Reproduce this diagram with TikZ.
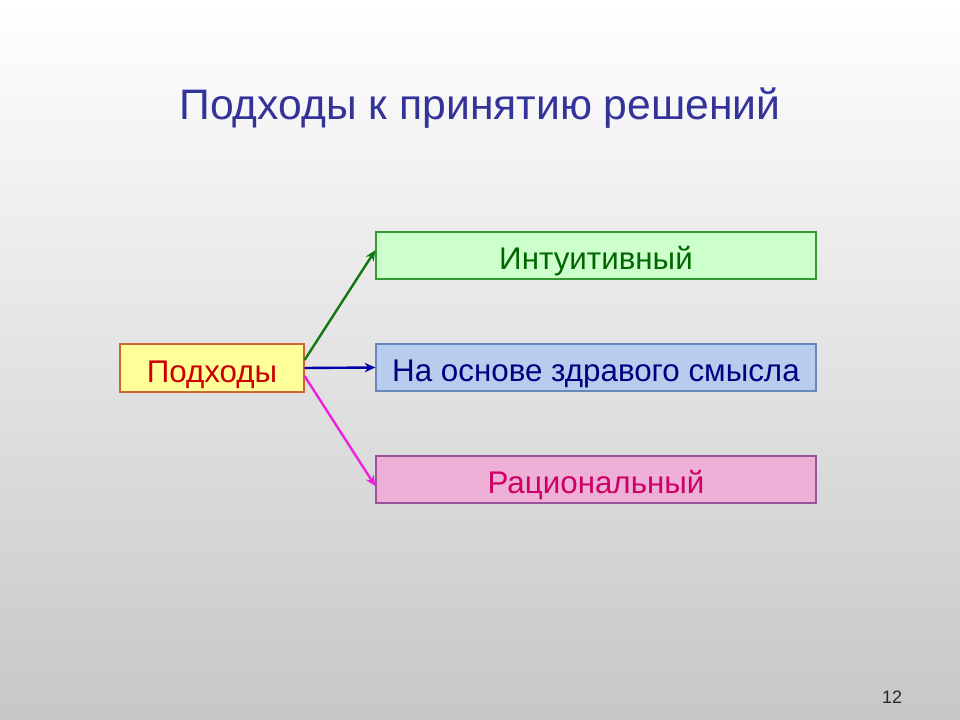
\documentclass[tikz,border=0pt]{standalone}
\usepackage{fontspec}
\setmainfont{Liberation Sans}
\usetikzlibrary{arrows.meta}
\definecolor{titleblue}{HTML}{333399}
\definecolor{yfill}{HTML}{FFFF99}
\definecolor{ydraw}{HTML}{CC6633}
\definecolor{ytext}{HTML}{CC0000}
\definecolor{gfill}{HTML}{CCFFCC}
\definecolor{gdraw}{HTML}{339933}
\definecolor{gtext}{HTML}{006600}
\definecolor{bfill}{HTML}{B8CCEE}
\definecolor{bdraw}{HTML}{6688BB}
\definecolor{btext}{HTML}{000080}
\definecolor{pfill}{HTML}{EEB0D6}
\definecolor{pdraw}{HTML}{995599}
\definecolor{ptext}{HTML}{CC0066}
\definecolor{garrow}{HTML}{117711}
\definecolor{barrow}{HTML}{0000AA}
\definecolor{parrow}{HTML}{EE22DD}
\begin{document}
\begin{tikzpicture}[x=0.75pt,y=-0.75pt,
  box/.style={draw, line width=0.9pt, inner sep=0pt, text height=21pt, text depth=0pt, font=\fontsize{23.5}{26}\selectfont},
  conn/.style={line width=1.8pt, -{Stealth[length=8pt,width=7pt]}}]
\shade[top color=white, bottom color=black!22] (0,0) rectangle (960,720);
\useasboundingbox (0,0) rectangle (960,720);
\node[text=titleblue, font=\fontsize{32}{36}\selectfont] (title) at (480,108) {Подходы к принятию решений};
\node[box, fill=yfill, draw=ydraw, text=ytext, minimum width=184*0.75pt, minimum height=48*0.75pt] (p) at (212,368) {Подходы};
\node[box, fill=gfill, draw=gdraw, text=gtext, minimum width=440*0.75pt, minimum height=47*0.75pt] (i) at (596,255.5) {Интуитивный};
\node[box, fill=bfill, draw=bdraw, text=btext, minimum width=440*0.75pt, minimum height=47*0.75pt] (z) at (596,367.5) {На основе здравого смысла};
\node[box, fill=pfill, draw=pdraw, text=ptext, minimum width=440*0.75pt, minimum height=47*0.75pt] (r) at (596,479.5) {Рациональный};
\draw[conn, garrow] ([yshift=6pt]p.east) -- ([yshift=4pt]i.west);
\draw[conn, barrow] (p.east) -- (z.west);
\draw[conn, parrow] ([yshift=-6pt]p.east) -- ([yshift=-5pt]r.west);
\node[text=black!85, font=\fontsize{13.5}{15}\selectfont] (num) at (892,697) {12};
\end{tikzpicture}
\end{document}
